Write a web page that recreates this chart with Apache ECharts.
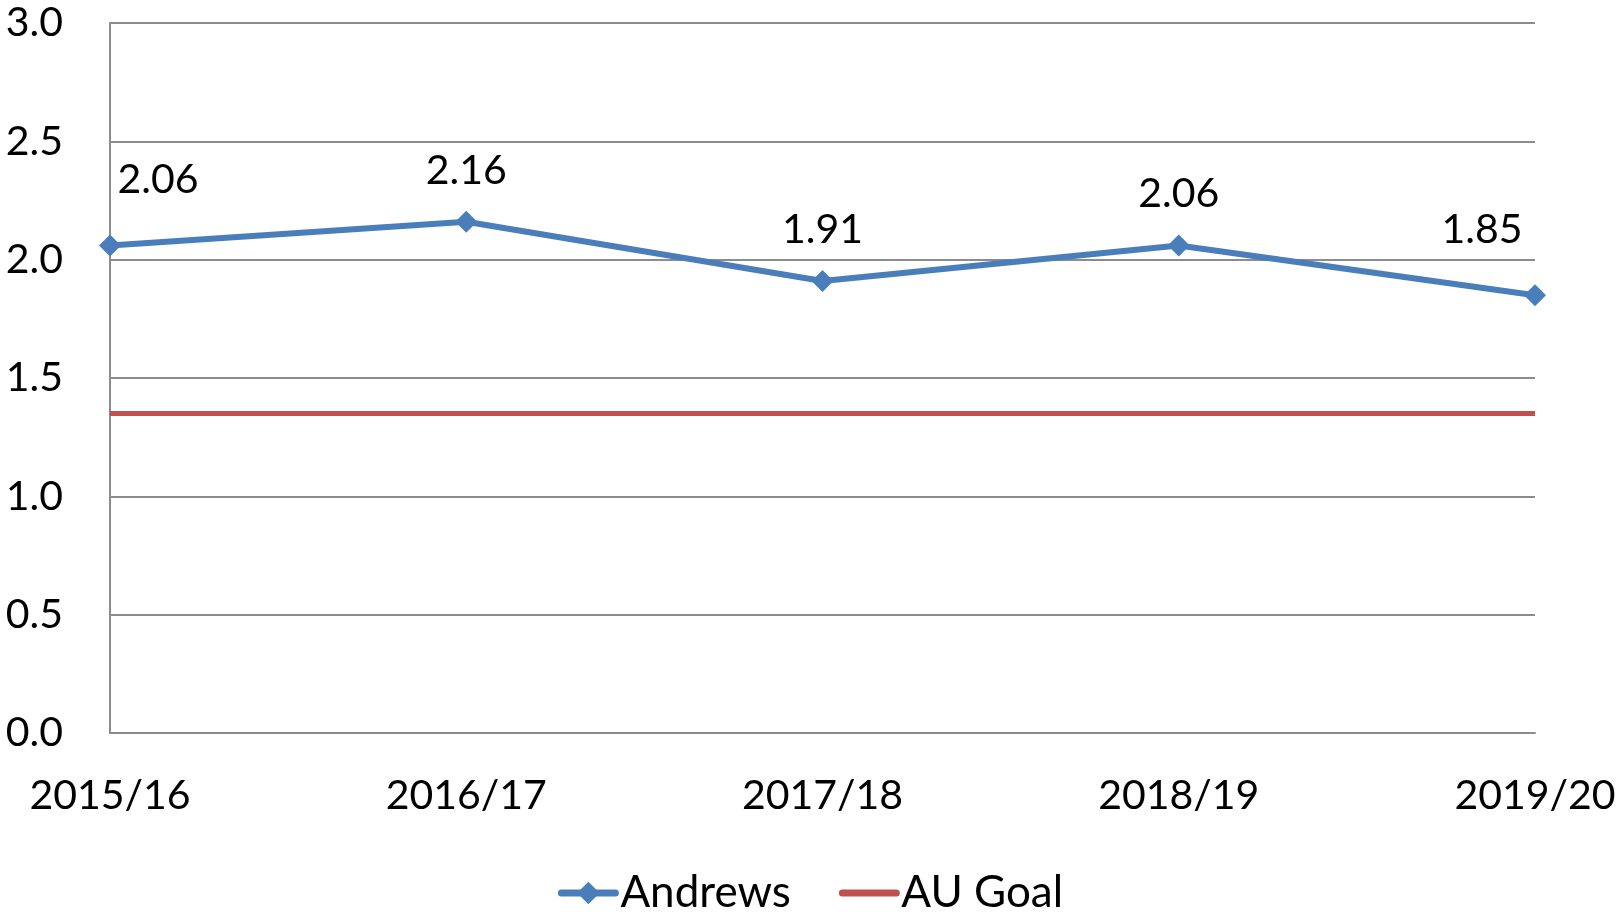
<!DOCTYPE html>
<html>
<head>
<meta charset="utf-8">
<script src="https://cdn.jsdelivr.net/npm/echarts@6/dist/echarts.min.js"></script>
<style>
  html, body { margin: 0; padding: 0; background: #fff; }
  #chart { width: 1621px; height: 915px; }
</style>
</head>
<body>
<div id="chart"></div>
<script>
const years = ["2015/16", "2016/17", "2017/18", "2018/19", "2019/20"];
const andrews = [2.06, 2.16, 1.91, 2.06, 1.85];
const auGoal = [1.35, 1.35, 1.35, 1.35, 1.35];
const yTicks = { min: 0, max: 3, step: 0.5 };

const FONT = "Lato";
const chart = echarts.init(document.getElementById("chart"));

// label placement like Excel: ends pushed inward
const labelOffsets = [[48, -14], [0, 0], [0, 0], [0, 0], [-53, -14]];

const option = {
  backgroundColor: "#fff",
  textStyle: { fontFamily: FONT, color: "#000" },
  grid: { left: 110, right: 86, top: 23, bottom: 182 },
  legend: {
    bottom: -5,
    left: "center",
    itemWidth: 54,
    itemHeight: 28,
    itemGap: 48,
    lineStyle: { width: 7, cap: "round" },
    textStyle: { fontSize: 44, fontFamily: FONT, color: "#000" },
    data: [
      { name: "Andrews" },
      { name: "AU Goal", itemStyle: { opacity: 0 } },
    ],
  },
  xAxis: {
    type: "category",
    data: years,
    boundaryGap: false,
    axisLine: { lineStyle: { color: "#8c8c8c", width: 2 } },
    axisTick: { show: false },
    axisLabel: { fontSize: 41, color: "#000", margin: 42, fontFamily: FONT },
  },
  yAxis: {
    type: "value",
    min: yTicks.min,
    max: yTicks.max,
    interval: yTicks.step,
    axisLine: { show: true, lineStyle: { color: "#8c8c8c", width: 2 } },
    axisTick: { show: false },
    splitLine: { lineStyle: { color: "#8c8c8c", width: 2 } },
    axisLabel: {
      fontSize: 41,
      color: "#000",
      margin: 47,
      fontFamily: FONT,
      formatter: (v) => v.toFixed(1),
    },
  },
  series: [
    {
      name: "AU Goal",
      type: "line",
      data: auGoal,
      symbol: "none",
      lineStyle: { color: "#C0504D", width: 5 },
      itemStyle: { color: "#C0504D" },
      z: 2,
    },
    {
      name: "Andrews",
      type: "line",
      data: andrews.map((v, i) => ({
        value: v,
        label: { offset: labelOffsets[i] },
      })),
      symbol: "diamond",
      symbolSize: 22,
      lineStyle: { color: "#4A7EBB", width: 6 },
      itemStyle: { color: "#4A7EBB" },
      label: {
        show: true,
        position: "top",
        distance: 20,
        fontSize: 41,
        color: "#000",
        fontFamily: FONT,
        formatter: (p) => p.value.toFixed(2),
      },
      z: 3,
    },
  ],
};

chart.setOption(option);
</script>
</body>
</html>
